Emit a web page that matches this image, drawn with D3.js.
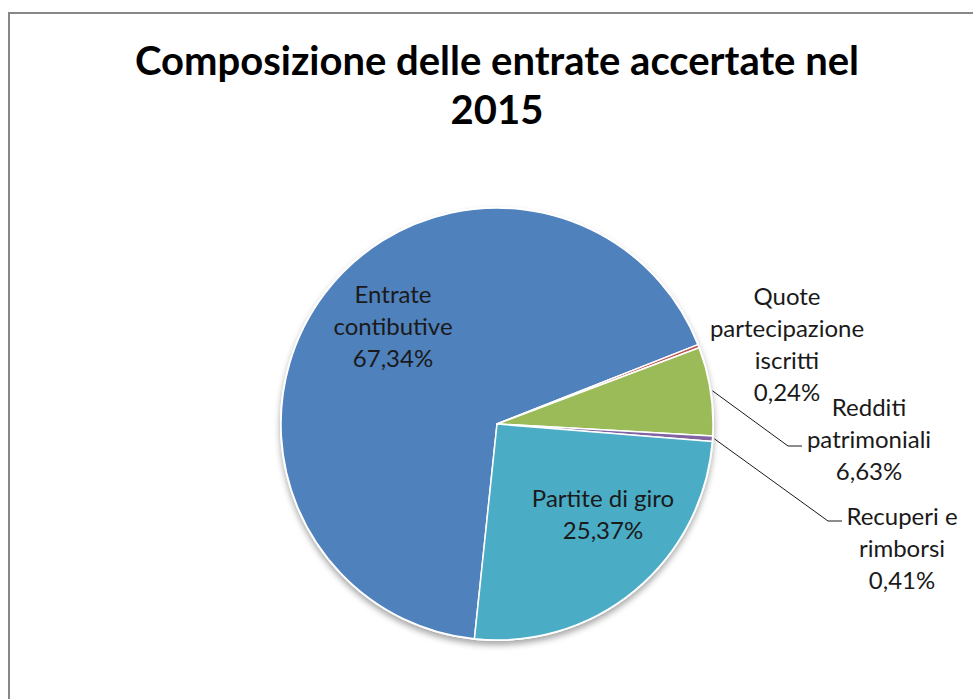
<!DOCTYPE html>
<html>
<head>
<meta charset="utf-8">
<script src="https://cdn.jsdelivr.net/npm/d3@7"></script>
<style>
  body { margin: 0; background: #fff; }
  text { font-family: Lato, "Open Sans", sans-serif; }
</style>
</head>
<body>
<div id="chart"></div>
<script>
// data
var categories = ["Entrate contibutive", "Quote partecipazione iscritti", "Redditi patrimoniali", "Recuperi e rimborsi", "Partite di giro"];
var values = [67.34, 0.24, 6.63, 0.41, 25.37];
var colors = ["#4F81BD", "#C0504D", "#9BBB59", "#8064A2", "#4BACC6"];
var labelLines = [
  ["Entrate", "contibutive", "67,34%"],
  ["Quote", "partecipazione", "iscritti", "0,24%"],
  ["Redditi", "patrimoniali", "6,63%"],
  ["Recuperi e", "rimborsi", "0,41%"],
  ["Partite di giro", "25,37%"]
];
var titleLines = ["Composizione delle entrate accertate nel", "2015"];

var svgWidth = 973;
var svgHeight = 699;
var cx = 497, cy = 424, radius = 216;
var startDeg = 186;

var svg = d3.select("#chart")
  .append("svg")
  .attr("width", svgWidth)
  .attr("height", svgHeight);

// drop shadow under the pie
var defs = svg.append("defs");
var f = defs.append("filter").attr("id", "shadow")
  .attr("x", "-10%").attr("y", "-10%").attr("width", "120%").attr("height", "125%");
f.append("feDropShadow")
  .attr("dx", 0).attr("dy", 4).attr("stdDeviation", 3)
  .attr("flood-color", "#000").attr("flood-opacity", 0.35);

// chart frame (only left and top visible)
svg.append("path")
  .attr("d", "M9," + svgHeight + " V13 H" + svgWidth)
  .attr("fill", "none")
  .attr("stroke", "#878787")
  .attr("stroke-width", 2);

// title
svg.append("text")
  .attr("x", 497)
  .attr("text-anchor", "middle")
  .attr("font-weight", "bold")
  .attr("font-size", 40)
  .attr("fill", "#000")
  .selectAll("tspan")
  .data(titleLines)
  .enter()
  .append("tspan")
    .attr("x", 497)
    .attr("y", function (d, i) { return 75 + i * 49; })
    .text(function (d) { return d; });

var pie = d3.pie()
  .sort(null)
  .startAngle(startDeg * Math.PI / 180)
  .endAngle((startDeg + 360) * Math.PI / 180);

var arcs = pie(values);
var arc = d3.arc().innerRadius(0).outerRadius(radius);

var pieGroup = svg.append("g")
  .attr("transform", `translate(${cx}, ${cy})`);

pieGroup.append("circle")
  .attr("r", radius + 1)
  .attr("fill", "#fff")
  .attr("filter", "url(#shadow)");

pieGroup.selectAll("path.slice")
  .data(arcs)
  .enter()
  .append("path")
    .attr("class", "slice")
    .attr("d", arc)
    .attr("fill", function (d, i) { return colors[i]; })
    .attr("stroke", "#fff")
    .attr("stroke-width", 1.5)
    .attr("stroke-linejoin", "round");

// label positions (centre of text block, first baseline)
var labelPos = [
  {x: 393, y: 303},
  {x: 787, y: 305},
  {x: 869, y: 416},
  {x: 902, y: 525},
  {x: 603, y: 507}
];
var lineHeight = 32;

var labels = svg.selectAll("text.lbl")
  .data(arcs)
  .enter()
  .append("text")
    .attr("class", "lbl")
    .attr("text-anchor", "middle")
    .attr("font-size", 24)
    .attr("fill", "#1a1a1a");

labels.each(function (d, i) {
  d3.select(this).selectAll("tspan")
    .data(labelLines[i])
    .enter()
    .append("tspan")
      .attr("x", labelPos[i].x)
      .attr("y", function (t, j) { return labelPos[i].y + j * lineHeight; })
      .text(function (t) { return t; });
});

// leader lines for the two small slices: from arc edge to label
var leaders = [
  {i: 2, bend: [788, 446], end: [802, 446]},
  {i: 3, bend: [828, 521], end: [842, 521]}
];
leaders.forEach(function (l) {
  var a = (arcs[l.i].startAngle + arcs[l.i].endAngle) / 2;
  var r0 = radius + 2;
  var p0 = [cx + r0 * Math.sin(a), cy - r0 * Math.cos(a)];
  svg.append("path")
    .attr("d", d3.line()([p0, l.bend, l.end]))
    .attr("fill", "none")
    .attr("stroke", "#1a1a1a")
    .attr("stroke-width", 1);
});
</script>
</body>
</html>
